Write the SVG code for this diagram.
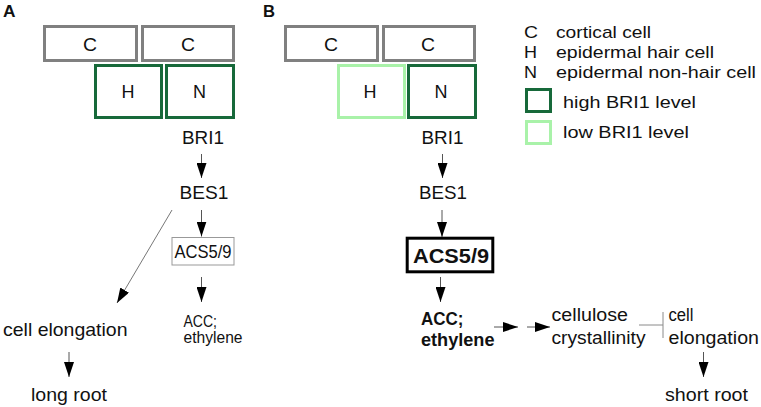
<svg xmlns="http://www.w3.org/2000/svg" width="761" height="407" viewBox="0 0 761 407">
<style>
text{font-family:"Liberation Sans",Arial,sans-serif;fill:#111;}
.lab{font-size:16px;font-weight:bold;}
.cell{font-size:18px;text-anchor:middle;}
.t{font-size:17.5px;}
.tb{font-size:18.5px;font-weight:bold;}
.lg{font-size:17px;}
.cbox{fill:#fff;stroke:#808080;stroke-width:3;}
.hi{fill:#fff;stroke:#17693a;stroke-width:3;}
.lo{fill:#fff;stroke:#a9f2a9;stroke-width:3;}
.ln{stroke:#555;stroke-width:1;fill:none;}
.inh{stroke:#8a8a8a;stroke-width:1;fill:none;}
</style>
<defs>
<marker id="ah" markerUnits="userSpaceOnUse" markerWidth="15" markerHeight="10" refX="15" refY="5" orient="auto">
<path d="M0,0 L15,5 L0,10 z" fill="#000"/>
</marker>
</defs>
<rect width="761" height="407" fill="#fff"/>
<text class="lab" x="3" y="16.5" textLength="12.5" lengthAdjust="spacingAndGlyphs">A</text>
<text class="lab" x="263" y="16.5" textLength="12" lengthAdjust="spacingAndGlyphs">B</text>

<g id="A-C1"><rect class="cbox" x="44.5" y="26.5" width="92" height="34"/><text class="cell" x="90" y="50.5" textLength="14" lengthAdjust="spacingAndGlyphs">C</text></g>
<g id="A-C2"><rect class="cbox" x="142.5" y="26.5" width="91" height="34"/><text class="cell" x="188" y="50.5" textLength="14" lengthAdjust="spacingAndGlyphs">C</text></g>
<g id="A-H"><rect class="hi" x="95.5" y="65.5" width="66" height="52"/><text class="cell" x="128" y="97.5" textLength="13" lengthAdjust="spacingAndGlyphs">H</text></g>
<g id="A-N"><rect class="hi" x="166.5" y="65.5" width="67" height="52"/><text class="cell" x="199.5" y="97.5" textLength="13" lengthAdjust="spacingAndGlyphs">N</text></g>

<g id="B-C1"><rect class="cbox" x="285.5" y="26.5" width="92" height="34"/><text class="cell" x="331" y="50.5" textLength="14" lengthAdjust="spacingAndGlyphs">C</text></g>
<g id="B-C2"><rect class="cbox" x="383.5" y="26.5" width="91" height="34"/><text class="cell" x="428" y="50.5" textLength="14" lengthAdjust="spacingAndGlyphs">C</text></g>
<g id="B-H"><rect class="lo" x="338.5" y="65.5" width="66" height="52"/><text class="cell" x="370" y="97.5" textLength="13" lengthAdjust="spacingAndGlyphs">H</text></g>
<g id="B-N"><rect class="hi" x="408.5" y="65.5" width="67" height="52"/><text class="cell" x="441" y="97.5" textLength="13" lengthAdjust="spacingAndGlyphs">N</text></g>

<g id="A-BRI1"><text class="t" x="182" y="143.5" textLength="42" lengthAdjust="spacingAndGlyphs">BRI1</text></g>
<g id="A-BES1"><text class="t" x="179.5" y="198.5" textLength="49" lengthAdjust="spacingAndGlyphs">BES1</text></g>
<g id="A-ACS"><rect x="172" y="237.5" width="62" height="27.5" fill="#fff" stroke="#999" stroke-width="1"/><text class="t" style="font-size:17.5px" x="174.5" y="258" textLength="57" lengthAdjust="spacingAndGlyphs">ACS5/9</text></g>
<g id="A-ACC"><text class="t" style="font-size:16.5px" x="183.5" y="326.5" textLength="33.5" lengthAdjust="spacingAndGlyphs">ACC;</text><text class="t" style="font-size:16.5px" x="183.5" y="343" textLength="59" lengthAdjust="spacingAndGlyphs">ethylene</text></g>
<g id="A-elong"><text class="t" style="font-size:18.5px" x="3" y="336" textLength="124.5" lengthAdjust="spacingAndGlyphs">cell elongation</text></g>
<g id="A-long"><text class="t" style="font-size:18.5px" x="31" y="400.5" textLength="76" lengthAdjust="spacingAndGlyphs">long root</text></g>

<g id="B-BRI1"><text class="t" x="421.5" y="143.5" textLength="42" lengthAdjust="spacingAndGlyphs">BRI1</text></g>
<g id="B-BES1"><text class="t" x="419" y="198.5" textLength="48" lengthAdjust="spacingAndGlyphs">BES1</text></g>
<g id="B-ACS"><rect x="407.2" y="238.2" width="85.6" height="33.6" fill="#fff" stroke="#000" stroke-width="3"/><text class="tb" style="font-size:20.5px" x="413" y="263" textLength="76" lengthAdjust="spacingAndGlyphs">ACS5/9</text></g>
<g id="B-ACC"><text class="tb" x="421" y="324.5" textLength="42.5" lengthAdjust="spacingAndGlyphs">ACC;</text><text class="tb" x="421" y="345.5" textLength="73.5" lengthAdjust="spacingAndGlyphs">ethylene</text></g>
<g id="B-cellulose"><text class="t" x="551.5" y="320.5" textLength="76.5" lengthAdjust="spacingAndGlyphs">cellulose</text><text class="t" x="551.5" y="343.5" textLength="94" lengthAdjust="spacingAndGlyphs">crystallinity</text></g>
<g id="B-elong"><text class="t" x="668.5" y="320.5" textLength="25" lengthAdjust="spacingAndGlyphs">cell</text><text class="t" x="668.5" y="343.5" textLength="90.5" lengthAdjust="spacingAndGlyphs">elongation</text></g>
<g id="B-short"><text class="t" style="font-size:18px" x="665" y="400.5" textLength="83" lengthAdjust="spacingAndGlyphs">short root</text></g>

<g id="legend">
<text class="lg" x="524" y="37.5" textLength="14" lengthAdjust="spacingAndGlyphs">C</text>
<text class="lg" x="556" y="37.5" textLength="95" lengthAdjust="spacingAndGlyphs">cortical cell</text>
<text class="lg" x="524" y="57.5" textLength="13" lengthAdjust="spacingAndGlyphs">H</text>
<text class="lg" x="556" y="57.5" textLength="158" lengthAdjust="spacingAndGlyphs">epidermal hair cell</text>
<text class="lg" x="524" y="77.5" textLength="13" lengthAdjust="spacingAndGlyphs">N</text>
<text class="lg" x="556" y="77.5" textLength="200" lengthAdjust="spacingAndGlyphs">epidermal non-hair cell</text>
<rect class="hi" x="526.5" y="89.5" width="24" height="22"/>
<text class="lg" x="563" y="108" textLength="133" lengthAdjust="spacingAndGlyphs">high BRI1 level</text>
<rect class="lo" x="526.5" y="121.5" width="24" height="22"/>
<text class="lg" x="563" y="138" textLength="126" lengthAdjust="spacingAndGlyphs">low BRI1 level</text>
</g>

<g id="connectors">
<line class="ln" x1="201.5" y1="154" x2="201.5" y2="178" marker-end="url(#ah)"/>
<line class="ln" x1="201.5" y1="210" x2="201.5" y2="236.5" marker-end="url(#ah)"/>
<line class="ln" x1="201.5" y1="277" x2="201.5" y2="302" marker-end="url(#ah)"/>
<line class="ln" x1="172" y1="210" x2="117" y2="303" marker-end="url(#ah)" style="stroke:#777"/>
<line class="ln" x1="69" y1="352" x2="69" y2="377" marker-end="url(#ah)"/>
<line class="ln" x1="442.5" y1="154" x2="442.5" y2="178" marker-end="url(#ah)"/>
<line class="ln" x1="442" y1="210" x2="442" y2="237" marker-end="url(#ah)"/>
<line class="ln" x1="440.5" y1="277" x2="440.5" y2="302" marker-end="url(#ah)"/>
<line class="ln" x1="494" y1="327" x2="518" y2="327" marker-end="url(#ah)"/>
<line class="ln" x1="527" y1="327" x2="550" y2="327" marker-end="url(#ah)"/>
<line class="inh" x1="639" y1="325" x2="663" y2="325"/>
<line class="inh" x1="663" y1="312" x2="663" y2="338"/>
<line class="ln" x1="703.5" y1="352" x2="703.5" y2="377" marker-end="url(#ah)"/>
</g>
</svg>
